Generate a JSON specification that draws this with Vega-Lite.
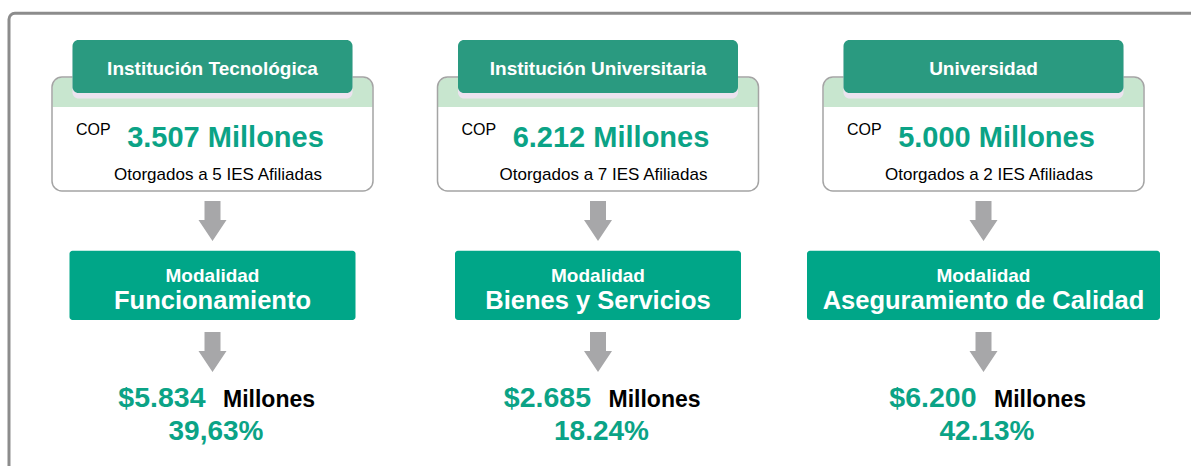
{
  "$schema": "https://vega.github.io/schema/vega-lite/v6.json",
  "width": 1191,
  "height": 466,
  "autosize": {"type": "fit", "contains": "padding"},
  "padding": 0,
  "background": "white",
  "config": {"view": {"stroke": null}, "text": {"font": "Liberation Sans", "baseline": "alphabetic"}},
  "data": {
    "values": [
      {"id": "IT", "tipo": "Institución Tecnológica", "total": "3.507 Millones", "ies": "Otorgados a 5 IES Afiliadas", "modalidad": "Funcionamiento", "monto": "$5.834", "pct": "39,63%"},
      {"id": "IU", "tipo": "Institución Universitaria", "total": "6.212 Millones", "ies": "Otorgados a 7 IES Afiliadas", "modalidad": "Bienes y Servicios", "monto": "$2.685", "pct": "18.24%"},
      {"id": "U", "tipo": "Universidad", "total": "5.000 Millones", "ies": "Otorgados a 2 IES Afiliadas", "modalidad": "Aseguramiento de Calidad", "monto": "$6.200", "pct": "42.13%"}
    ]
  },
  "resolve": {"scale": {"x": "independent"}},
  "layer": [
    {
      "data": {"values": [{"marco": "borde"}]},
      "mark": {"type": "rect", "fill": null, "stroke": "#8c8c8c", "strokeWidth": 3, "cornerRadius": 6, "clip": true},
      "encoding": {
        "x": {"datum": 9, "type": "quantitative", "scale": {"domain": [0, 1191], "nice": false, "zero": false}, "axis": null},
        "x2": {"datum": 1240},
        "y": {"datum": 13.3, "type": "quantitative", "scale": {"domain": [0, 466], "reverse": true, "nice": false, "zero": false}, "axis": null},
        "y2": {"datum": 520}
      }
    },
    {
      "encoding": {
        "x": {"field": "id", "type": "nominal", "scale": {"type": "band", "domain": ["IT", "IU", "U"], "range": [19.75, 1176.25], "paddingInner": 0, "paddingOuter": 0}, "axis": null}
      },
      "layer": [
        {
          "mark": {"type": "bar", "width": 321, "fill": "white", "cornerRadius": 10},
          "encoding": {
            "y": {"datum": 77, "type": "quantitative", "scale": {"domain": [0, 466], "reverse": true, "nice": false, "zero": false}, "axis": null},
            "y2": {"datum": 191}
          }
        },
        {
          "mark": {"type": "bar", "width": 320, "fill": "#c8e6cf", "cornerRadiusTopLeft": 10, "cornerRadiusTopRight": 10},
          "encoding": {
            "y": {"datum": 77.5, "type": "quantitative"},
            "y2": {"datum": 107}
          }
        },
        {
          "mark": {"type": "bar", "width": 321, "fill": null, "stroke": "#a4a4a4", "strokeWidth": 1.5, "cornerRadius": 10},
          "encoding": {
            "y": {"datum": 77, "type": "quantitative"},
            "y2": {"datum": 191}
          }
        },
        {
          "mark": {"type": "bar", "width": 280, "fill": "#ece3ef", "cornerRadius": 6},
          "encoding": {
            "y": {"datum": 45, "type": "quantitative"},
            "y2": {"datum": 98.5}
          }
        },
        {
          "mark": {"type": "bar", "width": 280, "fill": "#2a9a80", "cornerRadius": 6},
          "encoding": {
            "y": {"datum": 40, "type": "quantitative"},
            "y2": {"datum": 93}
          }
        },
        {
          "mark": {"type": "text", "fontSize": 19, "fontWeight": "bold", "color": "white", "align": "center"},
          "encoding": {
            "y": {"datum": 75, "type": "quantitative"},
            "text": {"field": "tipo"}
          }
        },
        {
          "mark": {"type": "text", "fontSize": 16, "color": "black", "align": "left", "dx": -136.5},
          "encoding": {
            "y": {"datum": 135, "type": "quantitative"},
            "text": {"value": "COP"}
          }
        },
        {
          "mark": {"type": "text", "fontSize": 29, "fontWeight": "bold", "color": "#0ba386", "align": "center", "dx": 13},
          "encoding": {
            "y": {"datum": 147, "type": "quantitative"},
            "text": {"field": "total"}
          }
        },
        {
          "mark": {"type": "text", "fontSize": 17, "color": "black", "align": "center", "dx": 5.5},
          "encoding": {
            "y": {"datum": 180, "type": "quantitative"},
            "text": {"field": "ies"}
          }
        },
        {
          "mark": {"type": "point", "shape": "M-0.4,-1L0.4,-1L0.4,-0.05L0.7,-0.05L0,1L-0.7,-0.05L-0.4,-0.05Z", "size": 1600, "filled": true, "color": "#a7a7a9", "opacity": 1, "strokeWidth": 0},
          "encoding": {
            "y": {"datum": 221, "type": "quantitative"}
          }
        },
        {
          "mark": {"type": "point", "shape": "M-0.4,-1L0.4,-1L0.4,-0.05L0.7,-0.05L0,1L-0.7,-0.05L-0.4,-0.05Z", "size": 1600, "filled": true, "color": "#a7a7a9", "opacity": 1, "strokeWidth": 0},
          "encoding": {
            "y": {"datum": 352, "type": "quantitative"}
          }
        },
        {
          "transform": [{"filter": "datum.id != 'U'"}],
          "mark": {"type": "bar", "width": 286, "fill": "#00a688", "cornerRadius": 3},
          "encoding": {
            "y": {"datum": 250.7, "type": "quantitative"},
            "y2": {"datum": 320}
          }
        },
        {
          "transform": [{"filter": "datum.id == 'U'"}],
          "mark": {"type": "bar", "width": 353, "fill": "#00a688", "cornerRadius": 3},
          "encoding": {
            "y": {"datum": 250.7, "type": "quantitative"},
            "y2": {"datum": 320}
          }
        },
        {
          "mark": {"type": "text", "fontSize": 19, "fontWeight": "bold", "color": "white", "align": "center"},
          "encoding": {
            "y": {"datum": 282, "type": "quantitative"},
            "text": {"value": "Modalidad"}
          }
        },
        {
          "mark": {"type": "text", "fontSize": 25.5, "fontWeight": "bold", "color": "white", "align": "center"},
          "encoding": {
            "y": {"datum": 309, "type": "quantitative"},
            "text": {"field": "modalidad"}
          }
        },
        {
          "mark": {"type": "text", "fontSize": 28.5, "fontWeight": "bold", "color": "#0ba386", "align": "right", "dx": -7},
          "encoding": {
            "y": {"datum": 407, "type": "quantitative"},
            "text": {"field": "monto"}
          }
        },
        {
          "mark": {"type": "text", "fontSize": 23, "fontWeight": "bold", "color": "black", "align": "left", "dx": 10.5},
          "encoding": {
            "y": {"datum": 407, "type": "quantitative"},
            "text": {"value": "Millones"}
          }
        },
        {
          "mark": {"type": "text", "fontSize": 28, "fontWeight": "bold", "color": "#0ba386", "align": "center", "dx": 3.5},
          "encoding": {
            "y": {"datum": 440, "type": "quantitative"},
            "text": {"field": "pct"}
          }
        }
      ]
    }
  ]
}
